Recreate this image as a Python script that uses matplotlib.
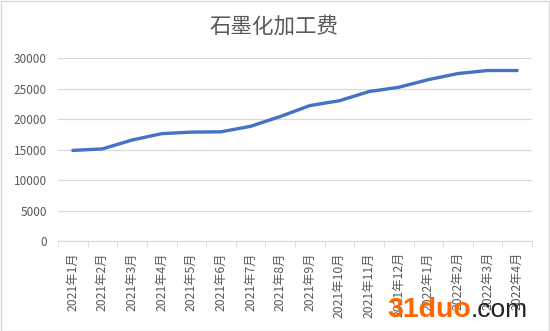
import matplotlib
matplotlib.use("Agg")
import matplotlib.pyplot as plt
import numpy as np

plt.rcParams['font.family'] = ['Noto Sans CJK SC', 'DejaVu Sans']

months = ["2021年1月", "2021年2月", "2021年3月", "2021年4月", "2021年5月", "2021年6月",
          "2021年7月", "2021年8月", "2021年9月", "2021年10月", "2021年11月", "2021年12月",
          "2022年1月", "2022年2月", "2022年3月", "2022年4月"]
fee = [14850, 15100, 16550, 17600, 17850, 17900, 18800, 20400, 22200, 23000,
       24500, 25200, 26450, 27450, 27950, 27950]
yticks = [0, 5000, 10000, 15000, 20000, 25000, 30000]

fig = plt.figure(figsize=(5.5, 3.31), dpi=100)
ax = fig.add_axes([58 / 550, 1 - 241 / 331, 474 / 550, 183 / 331])

x = np.arange(len(months))
ax.plot(x, fee, color="#4472C4", lw=2.4, solid_capstyle="round", solid_joinstyle="round")

ax.set_xlim(-0.5, len(months) - 0.5)
ax.set_ylim(0, 30000)
ax.set_yticks(yticks)
ax.set_yticklabels([str(v) for v in yticks], fontsize=8.5, color="#595959")
ax.grid(axis="y", color="#D9D9D9", lw=0.9)
ax.set_axisbelow(True)

ax.set_xticks(x)
ax.set_xticklabels(months, rotation=90, fontsize=8.8, color="#595959")
ax.set_xticks(np.arange(-0.5, len(months), 1), minor=True)
ax.tick_params(axis="x", which="major", length=0, pad=8)
ax.tick_params(axis="x", which="minor", length=4, color="#D9D9D9")
ax.tick_params(axis="y", length=0, pad=8)

for s in ["top", "right", "left"]:
    ax.spines[s].set_visible(False)
ax.spines["bottom"].set_color("#D9D9D9")

fig.text(0.498, 0.918, "石墨化加工费", ha="center", va="center", fontsize=15.5, color="#595959")

# watermark
fig.text(387 / 550, 1 - 317 / 331, "31duo", fontsize=20.5, fontweight="bold", color="#FF6600",
         family="Liberation Sans", ha="left", va="baseline")
fig.text(471 / 550, 1 - 317 / 331, ".com", fontsize=19, color="#222222",
         family="Liberation Sans", ha="left", va="baseline")

fig.patches.append(plt.Rectangle((0.001, 0.001), 0.997, 0.996, transform=fig.transFigure,
                                 fill=False, ec="#D9D9D9", lw=1))

fig.savefig("out.png", dpi=100)
